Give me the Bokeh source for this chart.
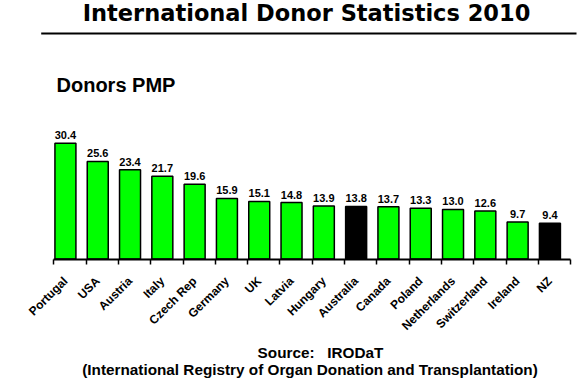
from math import pi
from bokeh.plotting import figure
from bokeh.models import (ColumnDataSource, FixedTicker, Label, BoxAnnotation, Range1d)
from bokeh.core.properties import value
from bokeh.embed import file_html
from bokeh.resources import INLINE

# ---- data ----
countries = ["Portugal", "USA", "Austria", "Italy", "Czech Rep", "Germany", "UK", "Latvia",
             "Hungary", "Australia", "Canada", "Poland", "Netherlands", "Switzerland",
             "Ireland", "NZ"]
donors_pmp = [30.4, 25.6, 23.4, 21.7, 19.6, 15.9, 15.1, 14.8,
              13.9, 13.8, 13.7, 13.3, 13.0, 12.6, 9.7, 9.4]
highlighted = ["Australia", "NZ"]
title_text = "International Donor Statistics 2010"
subtitle_text = "Donors PMP"
source_line1 = "Source:\u00a0\u00a0 IRODaT"
source_line2 = "(International Registry of Organ Donation and Transplantation)"

# ---- layout constants ----
W, H = 587, 387
px_per_cat = 32.3
axis_left = 53.3          # px where category 0 starts
base_px = 258.5           # px (from top) of the baseline
px_per_unit = 3.81
bar_offset = 0.36
bar_width = 0.65

n = len(countries)
xs = [i + bar_offset for i in range(n)]
colors = ["#000000" if c in highlighted else "#00FF00" for c in countries]
labels = ["%.1f" % v for v in donors_pmp]

src = ColumnDataSource(dict(x=xs, top=donors_pmp, color=colors, label=labels))

x_start = -axis_left / px_per_cat
x_end = x_start + W / px_per_cat
y_start = -(H - base_px) / px_per_unit
y_end = base_px / px_per_unit

p = figure(width=W, height=H, output_backend="svg", toolbar_location=None,
           x_range=Range1d(x_start, x_end), y_range=Range1d(y_start, y_end),
           min_border_left=0, min_border_right=0, min_border_top=0,
           min_border_bottom=0, y_axis_location=None)
p.outline_line_color = None
p.grid.visible = False
p.background_fill_color = "white"
p.border_fill_color = "white"

p.vbar(x="x", top="top", width=bar_width, bottom=0, source=src,
       fill_color="color", line_color="black", line_width=1.5)

p.text(x="x", y="top", text="label", source=src, text_align="center",
       text_baseline="bottom", y_offset=-4, text_font_size="11px",
       text_font_style="bold", text_font=value("Liberation Sans"), text_color="black")

ax = p.xaxis[0]
ax.fixed_location = 0
ax.bounds = (0, n)
ax.ticker = FixedTicker(ticks=xs, minor_ticks=list(range(n + 1)))
ax.major_label_overrides = {x: c for x, c in zip(xs, countries)}
ax.major_label_orientation = pi / 4
ax.major_label_text_font = "Liberation Sans"
ax.major_label_text_font_style = "bold"
ax.major_label_text_font_size = "12px"
ax.major_label_text_color = "black"
ax.major_label_standoff = 15
ax.major_tick_out = 0
ax.major_tick_in = 0
ax.minor_tick_out = 5
ax.minor_tick_in = 0
ax.minor_tick_line_color = "black"
ax.minor_tick_line_width = 1.5
ax.axis_line_color = "black"
ax.axis_line_width = 2

# title
p.add_layout(Label(x=306, y=H - 12.5, x_units="screen", y_units="screen",
                   text=title_text, text_align="center", text_baseline="middle",
                   text_font="DejaVu Sans", text_font_style="bold",
                   text_font_size="22.5px", text_color="black"))
# rule under title
p.add_layout(BoxAnnotation(left=40.7, right=576, top=H - 32, bottom=H - 34,
                           left_units="screen", right_units="screen",
                           top_units="screen", bottom_units="screen",
                           fill_color="black", fill_alpha=1, line_color=None))
# subtitle
p.add_layout(Label(x=56, y=H - 84.5, x_units="screen", y_units="screen",
                   text=subtitle_text, text_align="left", text_baseline="middle",
                   text_font="Liberation Sans", text_font_style="bold",
                   text_font_size="20px", text_color="black"))
# source lines
p.add_layout(Label(x=320, y=H - 352, x_units="screen", y_units="screen",
                   text=source_line1, text_align="center", text_baseline="middle",
                   text_font="Liberation Sans", text_font_style="bold",
                   text_font_size="15.3px", text_color="black"))
p.add_layout(Label(x=309.5, y=H - 369, x_units="screen", y_units="screen",
                   text=source_line2, text_align="center", text_baseline="middle",
                   text_font="Liberation Sans", text_font_style="bold",
                   text_font_size="15.3px", text_color="black"))

open("out.html", "w").write(file_html(p, INLINE))
